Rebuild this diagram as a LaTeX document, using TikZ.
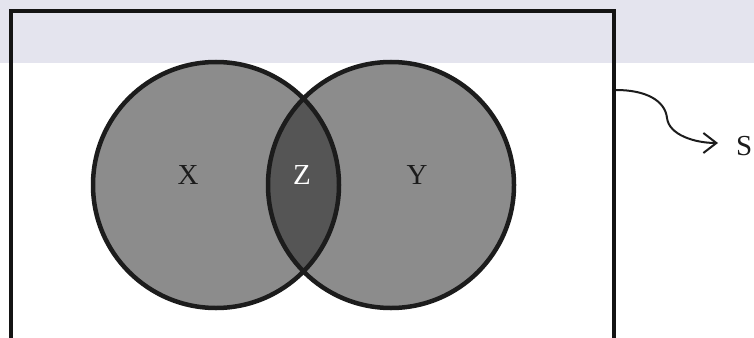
\documentclass[tikz,border=0pt]{standalone}
\usepackage{fontspec}
\setmainfont{Liberation Serif}
\usetikzlibrary{arrows.meta}
\definecolor{band}{RGB}{228,228,238}
\definecolor{setgray}{RGB}{140,140,140}
\definecolor{bothgray}{RGB}{85,85,85}
\definecolor{edge}{RGB}{28,28,28}
\begin{document}
\begin{tikzpicture}[x=1pt,y=-1pt,
   setname/.style={font=\fontsize{29}{31}\selectfont, inner sep=0pt, text=edge},
   setcircle/.style={circle, minimum size=246pt, inner sep=0pt, draw=edge, line width=4.5pt}]
   \useasboundingbox (0,0) rectangle (754,337);
   \fill [band] (0,0) rectangle (754,63);

   \node (Universe) at (312.5,205.5) [draw=edge!70!black, line width=4pt, minimum width=603pt, minimum height=389pt] {};

   \fill [setgray] (216,185) circle (123);
   \fill [setgray] (391,185) circle (123);
   \begin{scope}
      \clip (216,185) circle (123);
      \fill [bothgray] (391,185) circle (123);
   \end{scope}
   \node (X) at (216,185) [setcircle] {};
   \node (Y) at (391,185) [setcircle] {};

   \node (Xname) at (188,175) [setname] {X};
   \node (Zname) at (302,175) [setname, text=white] {Z};
   \node (Yname) at (417,175) [setname] {Y};

   \coordinate (Sfrom) at (616,90);
   \node (S) at (736,146.5) [setname, anchor=west] {S};

   \draw [edge, line width=2pt, -{Straight Barb[length=13pt,width=20pt]}] (Sfrom) .. controls (645,90) and (665,100) .. (667,118) .. controls (669,135) and (695,143) .. ([xshift=-18pt,yshift=3.5pt]S.west);

\end{tikzpicture}
\end{document}
